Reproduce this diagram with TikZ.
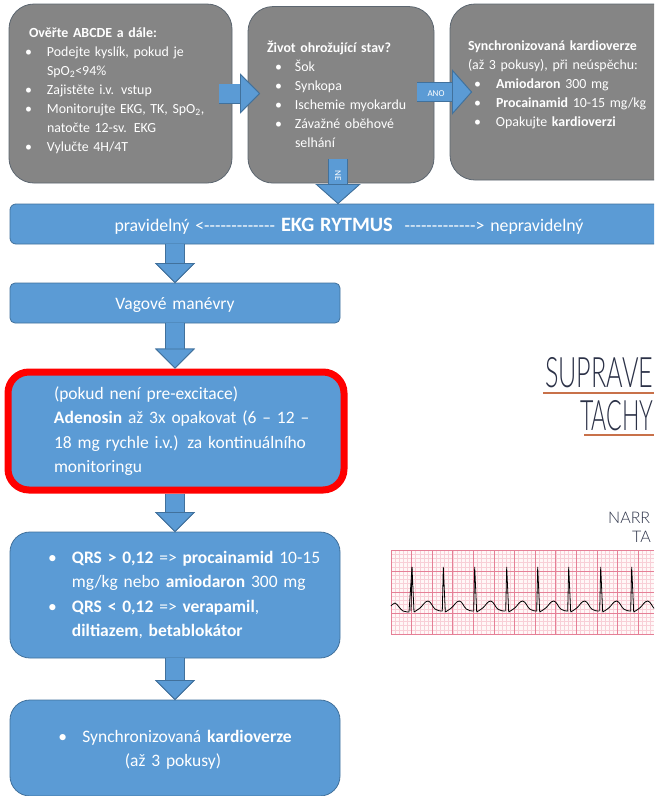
\documentclass[tikz,border=0pt]{standalone}
\usepackage{fontspec}
\setmainfont{Carlito}
\newfontfamily\handfont{Lato Light}
\usetikzlibrary{arrows.meta}
\definecolor{panelblue}{HTML}{5B9BD5}
\definecolor{edgeblue}{HTML}{41719C}
\definecolor{panelgrey}{HTML}{858585}
\definecolor{edgegrey}{HTML}{5C6670}
\definecolor{gridminor}{HTML}{F8CFD7}
\definecolor{gridmajor}{HTML}{E57F96}
\definecolor{inkblue}{HTML}{2B3147}
\definecolor{rustline}{HTML}{C8714A}
\newcommand{\itm}[1][22pt]{\makebox[#1][l]{\textbullet}}
\newcommand{\ind}[1][22pt]{\hspace*{#1}}
\newcommand{\pad}[1]{\rule[-#1]{0pt}{#1}}
\newcommand{\dashrun}{-{}-{}-{}-{}-{}-{}-{}-{}-{}-{}-{}-{}-{}}
\tikzset{
	greybox/.style={draw=edgegrey,fill=panelgrey,text=white,rounded corners=25pt,line width=.8pt,
		align=left,outer sep=0pt,font=\fontsize{13.9}{19}\selectfont},
	bluebox/.style={draw=edgeblue,fill=panelblue,text=white,line width=.8pt,align=left,inner xsep=5pt,
		outer sep=0pt,font=\fontsize{17.5}{24.2}\selectfont},
	blockarrow/.style={draw=panelblue,line width=18.6pt,preaction={draw=edgeblue,line width=20pt},
		-{Triangle[width=#1,length=20pt,line width=.8pt,color=edgeblue,fill=panelblue]}},
	blockarrow/.default=40pt,
	handtext/.style={text=inkblue,anchor=west,inner sep=0pt,transform shape,font=\handfont\fontsize{42}{42}\selectfont},
	notetext/.style={text=inkblue,anchor=west,inner sep=0pt,font=\handfont\fontsize{16}{16}\selectfont},
	arrowtext/.style={text=white,inner sep=0pt,font=\fontsize{9}{10}\selectfont},
}
\begin{document}
\begin{tikzpicture}[x=1pt,y=-1pt]
	\useasboundingbox (0,0) rectangle (654,796);
	\clip (0,0) rectangle (654,796);
	\fill[white] (0,0) rectangle (654,796);
	% top row
	\node[greybox,inner xsep=16pt,text width=191pt,minimum height=179pt] (abcde) at (120.5,93.5) {%
		\hspace*{4pt}\textbf{Ověřte ABCDE a dále:}\\
		\itm Podejte kyslík, pokud je\\
		\ind SpO\textsubscript{2}<94\%\\
		\itm Zajistěte i.v. vstup\\
		\itm Monitorujte EKG, TK, SpO\textsubscript{2},\\
		\ind natočte 12-sv. EKG\\
		\itm Vylučte 4H/4T\pad{8pt}};
	\node[greybox,inner xsep=19pt,text width=148pt,minimum height=176.5pt] (life) at (341,94.8) {%
		\textbf{Život ohrožující stav?}\\
		\hspace*{8pt}\itm[20pt]Šok\\
		\hspace*{8pt}\itm[20pt]Synkopa\\
		\hspace*{8pt}\itm[20pt]Ischemie myokardu\\
		\hspace*{8pt}\itm[20pt]Závažné oběhové\\
		\hspace*{8pt}\ind[20pt]selhání};
	\node[greybox,inner xsep=18pt,text width=215pt,minimum height=176pt] (shock) at (575.5,92) {%
		\textbf{Synchronizovaná kardioverze}\\
		(až 3 pokusy), při neúspěchu:\\
		\hspace*{6pt}\itm \textbf{Amiodaron} 300 mg\\
		\hspace*{6pt}\itm \textbf{Procainamid} 10-15 mg/kg\\
		\hspace*{6pt}\itm Opakujte \textbf{kardioverzi}\pad{16pt}};
	% left column
	\node[bluebox,rounded corners=6pt,text width=640pt,minimum height=40pt,align=center,font=\fontsize{17.8}{24}\selectfont] (rhythm) at (335,224) {%
		\rule{0pt}{18pt}\hspace*{28pt}pravidelný <\dashrun\ {\fontsize{20.4}{24}\selectfont\textbf{EKG RYTMUS}}\ \ \dashrun> nepravidelný};
	\node[bluebox,rounded corners=5pt,text width=320pt,minimum height=40pt,align=center] (vagal) at (175,303) {\rule{0pt}{16pt}Vagové manévry};
	\node[bluebox,draw=red,line width=7pt,rounded corners=21pt,inner xsep=10pt,text width=316pt,minimum height=118pt,outer sep=3.5pt] (adenosin) at (176,431) {%
		\hspace*{36pt}(pokud není pre-excitace)\\
		\hspace*{36pt}\textbf{Adenosin} až 3x opakovat (6 – 12 –\\
		\hspace*{36pt}18 mg rychle i.v.) za kontinuálního\\
		\hspace*{36pt}monitoringu};
	\node[bluebox,rounded corners=20pt,text width=320pt,minimum height=126pt] (drugs) at (175,595) {%
		\hspace*{33pt}\itm[24pt]\textbf{QRS > 0,12} => \textbf{procainamid} 10-15\\
		\hspace*{33pt}\ind[24pt]mg/kg nebo \textbf{amiodaron} 300 mg\\
		\hspace*{33pt}\itm[24pt]\textbf{QRS < 0,12} => \textbf{verapamil},\\
		\hspace*{33pt}\ind[24pt]\textbf{diltiazem}, \textbf{betablokátor}};
	\node[bluebox,rounded corners=20pt,text width=320pt,minimum height=96pt,align=center] (cardio) at (175,748) {%
		\rule{0pt}{16pt}\itm[24pt]Synchronizovaná \textbf{kardioverze}\hspace*{4pt}\\
		(až 3 pokusy)\hspace*{4pt}};
	% arrows
	\draw[blockarrow] ([xshift=-13pt]abcde.east) -- ([xshift=12pt]life.west |- abcde.east);
	\draw[blockarrow=45pt] ([xshift=-17pt]life.east |- shock.west) -- ([xshift=22pt]shock.west);
	\node[arrowtext] (yes) at (436,94) {ANO};
	\draw[blockarrow=45pt] ([xshift=-3pt,yshift=24pt]life.south) -- ([xshift=-3pt]life.south |- rhythm.north);
	\node[arrowtext,rotate=-90] (no) at (338,176) {NE};
	\draw[blockarrow] (vagal.north |- rhythm.south) -- (vagal.north);
	\draw[blockarrow] (vagal.south) -- (adenosin.north -| vagal.south);
	\draw[blockarrow] (adenosin.south -| drugs.north) -- (drugs.north);
	\draw[blockarrow] (drugs.south) -- (cardio.north);
	% title on the right
	\node[handtext,xscale=.6] (title1) at (545,373) {SUPRAVE};
	\draw[rustline,line width=1.6pt] (543,393) -- (654,393);
	\node[handtext,xscale=.55] (title2) at (580,416) {TACHY};
	\draw[rustline,line width=1.6pt] (584,435) -- (654,435);
	\node[notetext] (note1) at (608,518) {NARR};
	\node[notetext] (note2) at (632,537) {TA};
	% ecg strip
	\fill[red!3] (391,550) rectangle (654,635);
	\foreach \k in {0,...,63}
		\draw[gridminor,line width=.5pt] (391+4.12*\k,550) -- (391+4.12*\k,635);
	\foreach \k in {0,...,20}
		\draw[gridminor,line width=.5pt] (391,550+4.2*\k) -- (654,550+4.2*\k);
	\foreach \k in {0,...,12}
		\draw[gridmajor,line width=.7pt] (391+20.6*\k,550) -- (391+20.6*\k,635);
	\foreach \k in {0,...,4}
		\draw[gridmajor,line width=.7pt] (391,550+21*\k) -- (654,550+21*\k);
	\draw[black,line width=.8pt] plot[smooth,tension=.7] coordinates {(391,606) (395,603) (399,607) (403,611) (409,612)} -- (412,567);
	\foreach \r in {412,443.3,474.7,506.7,537.7,568.7,600.7,631.7}
		\draw[black,line width=.8pt] (\r-1,611) -- (\r,567) -- (\r+2,612)
			plot[smooth,tension=.7] coordinates {(\r+2,612) (\r+8,608) (\r+16,601) (\r+23,609) (\r+29,611) (\r+30.3,611)};
\end{tikzpicture}
\end{document}
